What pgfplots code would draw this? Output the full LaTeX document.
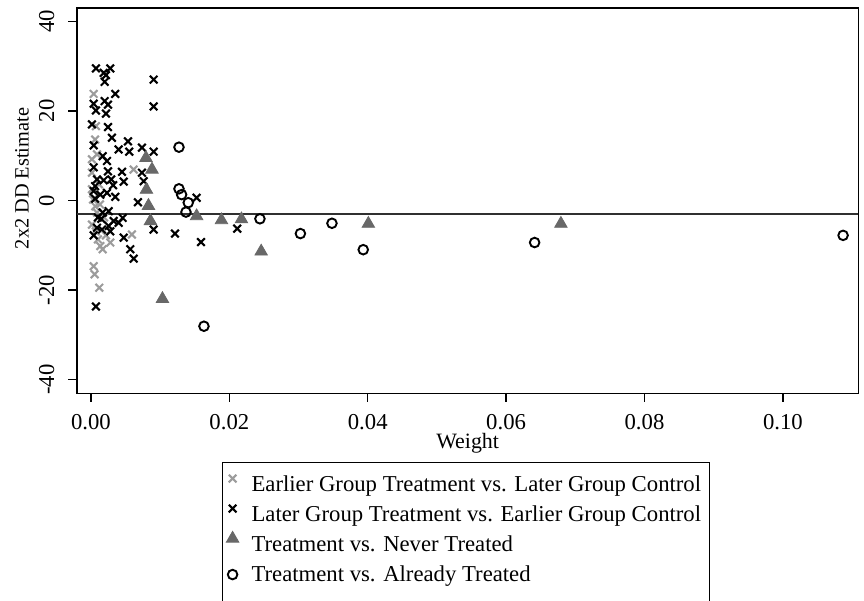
\documentclass[border=0pt]{standalone}
\usepackage{pgfplots}
\pgfplotsset{compat=1.18}
\usepackage{fontspec}
\setmainfont{Liberation Serif}

\definecolor{earlygray}{HTML}{9C9C9C}
\definecolor{nevergray}{HTML}{686868}
\definecolor{meanline}{HTML}{303030}

% marker-only legend image: the mark is drawn without enlarging the cell
\pgfplotsset{
  mk/.style={only marks,
    legend image code/.code={%
      \begin{pgfinterruptboundingbox}
        \draw[##1] plot coordinates {(0bp,3.4bp)};
      \end{pgfinterruptboundingbox}
      \path[draw=none, fill=none] (-1bp,0bp) rectangle (4bp,6bp);}},
}

\begin{document}
\begin{tikzpicture}
\begin{axis}[
  scale only axis,
  width=390.7bp, height=192.7bp,
  xmin=-0.00202, xmax=0.1109,
  ymin=-43.1, ymax=43,
  axis line style={line width=0.75bp},
  every tick/.style={black, line width=0.75bp},
  tick align=outside,
  major tick length=4.3bp,
  xtick pos=bottom, ytick pos=left,
  xtick={0,0.02,0.04,0.06,0.08,0.10},
  xticklabels={0.00,0.02,0.04,0.06,0.08,0.10},
  ytick={-40,-20,0,20,40},
  yticklabels={-40,-20,0,20,40},
  ticklabel style={font=\fontsize{11.4}{13}\selectfont},
  xticklabel style={inner sep=0pt, anchor=north},
  yticklabel style={inner sep=0pt, rotate=90, anchor=south},
  xticklabel shift=6.2bp,
  yticklabel shift=6.8bp,
  xlabel={Weight},
  ylabel={2x2 DD Estimate},
  xlabel style={at={(axis description cs:0.5,-0.1419)}, anchor=base, inner sep=0pt,
    font=\fontsize{11}{13}\selectfont},
  ylabel style={at={(axis description cs:-0.0620,0.5575)}, anchor=base, rotate=0, inner sep=0pt,
    font=\fontsize{10.2}{12}\selectfont},
  legend style={
    at={(axis description cs:0.1856,-0.1783)}, anchor=north west,
    draw=black, line width=0.6bp,
    inner xsep=4bp, inner ysep=5.35bp,
    row sep=3bp,
    font=\fontsize{11.4}{13}\selectfont,
    nodes={inner sep=0bp, text height=9bp, text depth=3bp},
    /tikz/every odd column/.append style={column sep=5.5bp},
  },
  legend cell align=left,
]

% overall estimate
\addplot[meanline, line width=1bp, forget plot] coordinates {(-0.00202,-3.0) (0.1109,-3.0)};

% earlier group treated vs later group as control
\addplot[mk, mark=x, mark size=2.7bp, draw=earlygray, line width=1.05bp] coordinates {
(0.00039,23.8) (0.00072,16.6) (0.0006,13.6) (0.00087,10.3) (0.00014,9.2)
(0.00014,6.2) (0.00617,6.9) (0.00116,3.6) (0.00014,2.5) (0.0003,0.2)
(0.00062,-1.3) (0.0013,-0.9) (0.00087,-2.7) (0.00188,-3.8) (0.00014,-5.4)
(0.0007,-6.9) (0.00217,-7.8) (0.00592,-7.6) (0.001,-8.7) (0.00279,-9.4)
(0.00134,-10.2) (0.00169,-10.9) (0.00039,-14.7) (0.00053,-16.5) (0.0012,-19.5)
};
\addlegendentry{Earlier Group Treatment vs. Later Group Control}

% later group treated vs earlier group as control
\addplot[mk, mark=x, mark size=2.7bp, draw=black, line width=1.05bp] coordinates {
(0.00072,29.5) (0.00184,28.5) (0.00279,29.5) (0.00217,28.0) (0.00198,26.5)
(0.00906,27.0) (0.00351,23.8) (0.00039,21.6) (0.00198,22.2) (0.00246,21.4)
(0.00072,20.1) (0.00217,19.4) (0.00906,21.0) (0.00014,17.0) (0.00246,16.4)
(0.00303,14.0) (0.00535,13.2) (0.00039,12.3) (0.0040,11.4) (0.00553,10.9)
(0.00737,11.8) (0.00906,10.9) (0.00169,9.9) (0.00231,8.8) (0.00039,7.4)
(0.00246,6.5) (0.00448,6.4) (0.00737,6.2) (0.00087,4.7) (0.00184,4.5)
(0.00293,4.7) (0.00473,4.2) (0.00762,4.3) (0.0006,3.2) (0.0032,3.4)
(0.00039,2.1) (0.00134,1.3) (0.00231,1.7) (0.00351,0.8) (0.0006,0.4)
(0.00679,-0.4) (0.00169,-2.7) (0.00256,-2.4) (0.00149,-4.1) (0.001,-3.8)
(0.00328,-4.6) (0.00458,-3.9) (0.0040,-5.0) (0.00087,-6.1) (0.00159,-6.5)
(0.00256,-5.7) (0.00039,-7.8) (0.00279,-6.9) (0.00473,-8.3) (0.00906,-6.5)
(0.00568,-10.9) (0.00617,-13.0) (0.00072,-23.7) (0.01527,0.6) (0.01214,-7.4)
(0.0159,-9.3) (0.02114,-6.3)
};
\addlegendentry{Later Group Treatment vs. Earlier Group Control}

% treated vs never treated
\addplot[mk, mark=triangle*, mark size=3.6bp, draw=nevergray, fill=nevergray, line width=0.4bp] coordinates {
(0.00795,9.5) (0.00882,6.9) (0.00802,2.4) (0.00831,-1.2) (0.0086,-4.6)
(0.01033,-22.0) (0.01527,-3.5) (0.01886,-4.4) (0.02175,-4.2) (0.0246,-11.4)
(0.04009,-5.2) (0.06792,-5.2)
};
\addlegendentry{Treatment vs. Never Treated}

% treated vs already treated
\addplot[mk, mark=o, mark size=2.4bp, draw=black, line width=0.95bp] coordinates {
(0.01272,11.9) (0.01272,2.6) (0.0131,1.3) (0.01406,-0.5) (0.01373,-2.6)
(0.01633,-28.1) (0.02442,-4.1) (0.03027,-7.4) (0.03483,-5.1) (0.03935,-11.0)
(0.06412,-9.4) (0.1087,-7.8)
};
\addlegendentry[text depth=9bp]{Treatment vs. Already Treated}

\end{axis}
\pgfresetboundingbox
\path[use as bounding box] (-38.5bp,-103.35bp) rectangle (393.55bp,196.7bp);
\end{tikzpicture}
\end{document}
